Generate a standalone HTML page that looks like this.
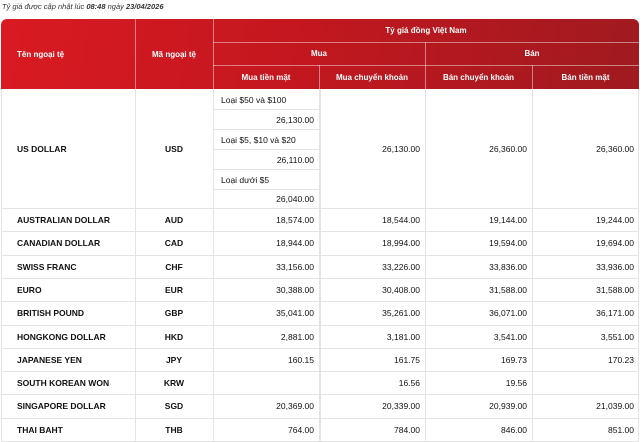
<!DOCTYPE html>
<html><head><meta charset="utf-8"><style>
*{margin:0;padding:0;box-sizing:border-box}
body{width:640px;height:442px;background:#fff;font-family:"Liberation Sans",sans-serif;position:relative;overflow:hidden;color:#111}
.a{position:absolute;display:flex;align-items:center;font-size:8.5px;white-space:nowrap}
.c{justify-content:center}.r{justify-content:flex-end;padding-right:5px}.l{padding-left:17px}
.h{color:#fff;font-weight:bold;font-size:8px}
.b{font-weight:bold}
.hl{position:absolute;background:rgba(255,255,255,.45)}
.gl{position:absolute;background:#e4e4e4}
</style></head><body>
<div class="a" style="left:2px;top:0;height:12px;font-style:italic;font-size:7.5px;color:#333">Tỷ giá được cập nhật lúc&nbsp;<b>08:48</b>&nbsp;ngày&nbsp;<b>23/04/2026</b></div>
<div style="position:absolute;left:1px;top:19px;width:638px;height:70px;border-radius:6px 6px 0 0;background:linear-gradient(100deg,#d91a22 0%,#c4171f 45%,#9f1a1f 100%)"></div>
<div class="hl" style="left:135px;top:19px;width:1px;height:70px"></div>
<div class="hl" style="left:213px;top:19px;width:1px;height:70px"></div>
<div class="hl" style="left:213px;top:42px;width:426px;height:1px"></div>
<div class="hl" style="left:213px;top:65px;width:426px;height:1px"></div>
<div class="hl" style="left:425px;top:42px;width:1px;height:47px"></div>
<div class="hl" style="left:319px;top:65px;width:1px;height:24px"></div>
<div class="hl" style="left:532px;top:65px;width:1px;height:24px"></div>
<div class="a h l" style="left:0;top:19px;width:135px;height:70px">Tên ngoại tệ</div>
<div class="a h c" style="left:135px;top:19px;width:78px;height:70px">Mã ngoại tệ</div>
<div class="a h c" style="left:213px;top:19px;width:426px;height:23px">Tỷ giá đồng Việt Nam</div>
<div class="a h c" style="left:213px;top:42px;width:212px;height:23px">Mua</div>
<div class="a h c" style="left:425px;top:42px;width:214px;height:23px">Bán</div>
<div class="a h c" style="left:213px;top:65px;width:106px;height:24px">Mua tiền mặt</div>
<div class="a h c" style="left:319px;top:65px;width:106px;height:24px">Mua chuyển khoản</div>
<div class="a h c" style="left:425px;top:65px;width:107px;height:24px">Bán chuyển khoản</div>
<div class="a h c" style="left:532px;top:65px;width:107px;height:24px">Bán tiền mặt</div>
<div class="gl" style="left:1px;top:89px;width:1px;height:353px"></div>
<div class="gl" style="left:135px;top:89px;width:1px;height:353px"></div>
<div class="gl" style="left:213px;top:89px;width:1px;height:353px"></div>
<div class="gl" style="left:319px;top:89px;width:2px;height:353px"></div>
<div class="gl" style="left:425px;top:89px;width:1px;height:353px"></div>
<div class="gl" style="left:532px;top:89px;width:1px;height:353px"></div>
<div class="gl" style="left:638px;top:89px;width:1px;height:353px"></div>
<div class="gl" style="left:214px;top:109px;width:105px;height:1px"></div>
<div class="gl" style="left:214px;top:129px;width:105px;height:1px"></div>
<div class="gl" style="left:214px;top:149px;width:105px;height:1px"></div>
<div class="gl" style="left:214px;top:169px;width:105px;height:1px"></div>
<div class="gl" style="left:214px;top:189px;width:105px;height:1px"></div>
<div class="a" style="left:221px;top:90px;height:19px">Loại $50 và $100</div>
<div class="a r" style="left:213px;top:110px;width:106px;height:19px">26,130.00</div>
<div class="a" style="left:221px;top:130px;height:19px">Loại $5, $10 và $20</div>
<div class="a r" style="left:213px;top:150px;width:106px;height:19px">26,110.00</div>
<div class="a" style="left:221px;top:170px;height:19px">Loại dưới $5</div>
<div class="a r" style="left:213px;top:190px;width:106px;height:18px">26,040.00</div>
<div class="a b l" style="left:0;top:89px;width:135px;height:119px">US DOLLAR</div>
<div class="a b c" style="left:135px;top:89px;width:78px;height:119px">USD</div>
<div class="a r" style="left:319px;top:89px;width:106px;height:119px">26,130.00</div>
<div class="a r" style="left:425px;top:89px;width:107px;height:119px">26,360.00</div>
<div class="a r" style="left:532px;top:89px;width:107px;height:119px">26,360.00</div>
<div id="rows"></div>
<script>
var d=[["AUSTRALIAN DOLLAR","AUD","18,574.00","18,544.00","19,144.00","19,244.00"],
["CANADIAN DOLLAR","CAD","18,944.00","18,994.00","19,594.00","19,694.00"],
["SWISS FRANC","CHF","33,156.00","33,226.00","33,836.00","33,936.00"],
["EURO","EUR","30,388.00","30,408.00","31,588.00","31,588.00"],
["BRITISH POUND","GBP","35,041.00","35,261.00","36,071.00","36,171.00"],
["HONGKONG DOLLAR","HKD","2,881.00","3,181.00","3,541.00","3,551.00"],
["JAPANESE YEN","JPY","160.15","161.75","169.73","170.23"],
["SOUTH KOREAN WON","KRW","","16.56","19.56",""],
["SINGAPORE DOLLAR","SGD","20,369.00","20,339.00","20,939.00","21,039.00"],
["THAI BAHT","THB","764.00","784.00","846.00","851.00"]];
var xs=[0,135,213,319,425,532,639],h="";
h+='<div class="gl" style="left:1px;top:208px;width:638px;height:1px"></div>';
d.forEach(function(r,i){var t=209+i*23.3;
h+='<div class="gl" style="left:1px;top:'+(t+22.3)+'px;width:638px;height:1px"></div>';
for(var j=0;j<6;j++){var cl=j==0?"a b l":j==1?"a b c":"a r";
h+='<div class="'+cl+'" style="left:'+xs[j]+'px;top:'+t+'px;width:'+(xs[j+1]-xs[j])+'px;height:22px">'+r[j]+'</div>';}});
document.getElementById("rows").innerHTML=h;
</script>
</body></html>
